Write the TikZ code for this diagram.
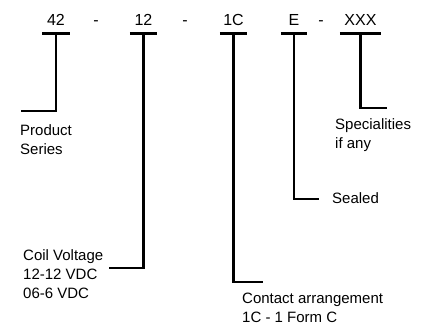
\documentclass[tikz,border=0pt]{standalone}
\usepackage{fontspec}
\setmainfont{Liberation Sans}
\usetikzlibrary{positioning}
\tikzset{
  code/.style={font=\fontsize{16}{19}\selectfont, minimum width=27pt, inner xsep=0pt, inner ysep=0pt, text depth=8pt, anchor=base},
  tag/.style={font=\fontsize{15}{19}\selectfont, align=left, inner sep=0pt},
  bar/.style={line width=2.8pt},
  lead/.style={line width=2.7pt}
}
\begin{document}
\begin{tikzpicture}[x=1pt,y=-1pt]
        \useasboundingbox (0,0) rectangle (431,327);
        \node[code] (n42) at (56,25) {42};
        \node[code] (d1) at (96,25) {-};
        \node[code] (n12) at (143.5,25) {12};
        \node[code] (d2) at (185,25) {-};
        \node[code] (n1C) at (233.5,25) {1C};
        \node[code, minimum width=26pt] (nE) at (294,25) {E};
        \node[code] (d3) at (321,25) {-};
        \node[code, minimum width=41pt] (nX) at (360.5,25) {XXX};
        \draw[bar] (n42.south west) -- (n42.south east);
        \draw[bar] (n12.south west) -- (n12.south east);
        \draw[bar] (n1C.south west) -- (n1C.south east);
        \draw[bar] (nE.south west) -- (nE.south east);
        \draw[bar] (nX.south west) -- (nX.south east);
        \coordinate (k42) at (21,111);
        \coordinate (k12) at (109,268);
        \coordinate (k1C) at (263,282);
        \coordinate (kE) at (319,199);
        \coordinate (kX) at (387,108);
        \draw[lead] (n42.south) |- (k42);
        \draw[lead] (n12.south) |- (k12);
        \draw[lead] (n1C.south) |- (k1C);
        \draw[lead] (nE.south) |- (kE);
        \draw[lead] (nX.south) |- (kX);
        \node[tag, anchor=north west] (series) at (20,124.5) {Product\\Series};
        \node[tag, anchor=north west] (coil) at (23,249.5) {Coil Voltage\\12-12 VDC\\06-6 VDC};
        \node[tag, anchor=north west] (contact) at (242,292.5) {Contact arrangement\\1C - 1 Form C};
        \node[tag, anchor=west] (seal) at (332,198) {Sealed};
        \node[tag, anchor=north west] (spec) at (335,118.5) {Specialities\\if any};
\end{tikzpicture}
\end{document}
